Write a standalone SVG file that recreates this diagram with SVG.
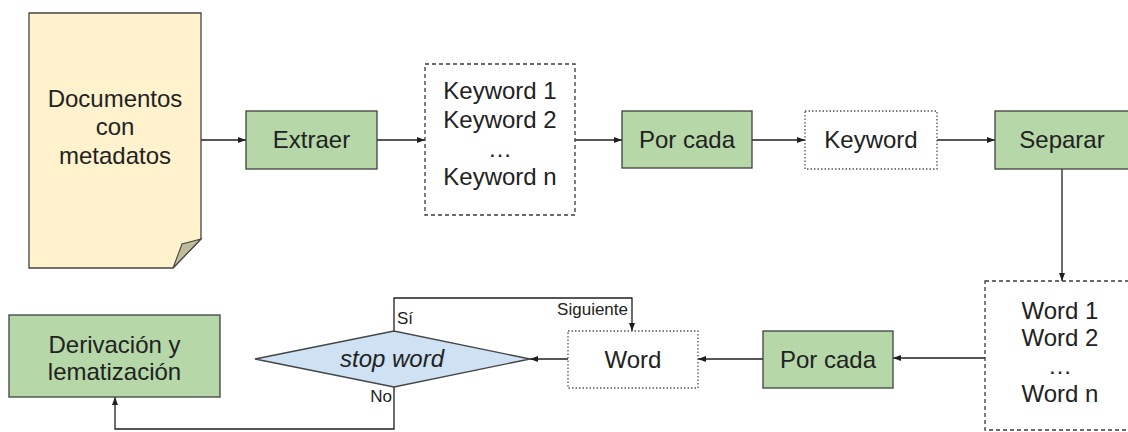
<svg xmlns="http://www.w3.org/2000/svg" width="1128" height="432" viewBox="0 0 1128 432">
  <defs>
    <marker id="arrow" viewBox="0 0 8 6" refX="8" refY="3" markerWidth="8" markerHeight="6" markerUnits="userSpaceOnUse" orient="auto">
      <path d="M0,0 L8,3 L0,6 z" fill="#1f1f1f"/>
    </marker>
    <style>
      text { font-family: "Liberation Sans", Arial, sans-serif; fill: #222; }
      .lbl { font-size: 24px; text-anchor: middle; }
      .small { font-size: 17px; }
      .proc { fill: #b6d7a8; stroke: #3f3f3f; stroke-width: 1.3; }
      .list { fill: #ffffff; stroke: #3a3a3a; stroke-width: 1.3; stroke-dasharray: 4 3; }
      .item { fill: #ffffff; stroke: #555; stroke-width: 1.3; stroke-dasharray: 1.5 2; }
      .edge { fill: none; stroke: #1f1f1f; stroke-width: 1.3; marker-end: url(#arrow); }
    </style>
  </defs>
  <rect width="1128" height="432" fill="#ffffff"/>

  <!-- Connectors -->
  <g id="connectors">
    <line class="edge" x1="201" y1="140" x2="246" y2="140"/>
    <line class="edge" x1="377" y1="140" x2="425" y2="140"/>
    <line class="edge" x1="575" y1="140" x2="622" y2="140"/>
    <line class="edge" x1="752" y1="140" x2="805" y2="140"/>
    <line class="edge" x1="937" y1="140" x2="995" y2="140"/>
    <line class="edge" x1="1062" y1="169" x2="1062" y2="281"/>
    <line class="edge" x1="985" y1="358" x2="893" y2="358"/>
    <line class="edge" x1="763" y1="359" x2="698" y2="359"/>
    <line class="edge" x1="568" y1="359" x2="530" y2="359"/>
    <polyline class="edge" points="394,331 394,298 632,298 632,331"/>
    <polyline class="edge" points="394,387 394,429 115,429 115,397"/>
    <text class="small" x="397" y="324">Sí</text>
    <text class="small" x="628" y="315" text-anchor="end">Siguiente</text>
    <text class="small" x="392" y="402" text-anchor="end">No</text>
  </g>

  <!-- Source documents -->
  <g id="documentos">
    <path d="M29,13 L201,13 L201,239 L173,268 L29,268 Z" fill="#fff2cc" stroke="#444" stroke-width="1.3"/>
    <path d="M201,239 L182,244 L173,268 Z" fill="#bfbb9c" stroke="#444" stroke-width="1.1"/>
    <text class="lbl" x="115" y="107">Documentos</text>
    <text class="lbl" x="115" y="135">con</text>
    <text class="lbl" x="115" y="164">metadatos</text>
  </g>

  <g id="extraer">
    <rect class="proc" x="246" y="111" width="131" height="58"/>
    <text class="lbl" x="311.5" y="148">Extraer</text>
  </g>

  <g id="keywords">
    <rect class="list" x="425" y="64" width="150" height="151"/>
    <text class="lbl" x="500" y="99">Keyword 1</text>
    <text class="lbl" x="500" y="128">Keyword 2</text>
    <text class="lbl" x="500" y="157">…</text>
    <text class="lbl" x="500" y="185">Keyword n</text>
  </g>

  <g id="por-cada-keyword">
    <rect class="proc" x="622" y="111" width="130" height="57"/>
    <text class="lbl" x="687" y="148">Por cada</text>
  </g>

  <g id="keyword">
    <rect class="item" x="805" y="111" width="132" height="58"/>
    <text class="lbl" x="871" y="148">Keyword</text>
  </g>

  <g id="separar">
    <rect class="proc" x="995" y="111" width="140" height="58"/>
    <text class="lbl" x="1062" y="148">Separar</text>
  </g>

  <g id="words">
    <rect class="list" x="985" y="281" width="150" height="149"/>
    <text class="lbl" x="1060" y="319">Word 1</text>
    <text class="lbl" x="1060" y="346">Word 2</text>
    <text class="lbl" x="1060" y="374">…</text>
    <text class="lbl" x="1060" y="402">Word n</text>
  </g>

  <g id="por-cada-word">
    <rect class="proc" x="763" y="331" width="130" height="57"/>
    <text class="lbl" x="828" y="368">Por cada</text>
  </g>

  <g id="word">
    <rect class="item" x="568" y="331" width="130" height="57"/>
    <text class="lbl" x="633" y="368">Word</text>
  </g>

  <g id="stop-word">
    <polygon points="255,359 394,331 530,359 394,387" fill="#cfe2f3" stroke="#444" stroke-width="1.3"/>
    <text class="lbl" x="392" y="367" font-style="italic">stop word</text>
  </g>

  <g id="derivacion">
    <rect class="proc" x="9" y="315" width="211" height="82"/>
    <text class="lbl" x="114.5" y="353">Derivación y</text>
    <text class="lbl" x="114.5" y="380">lematización</text>
  </g>
</svg>
